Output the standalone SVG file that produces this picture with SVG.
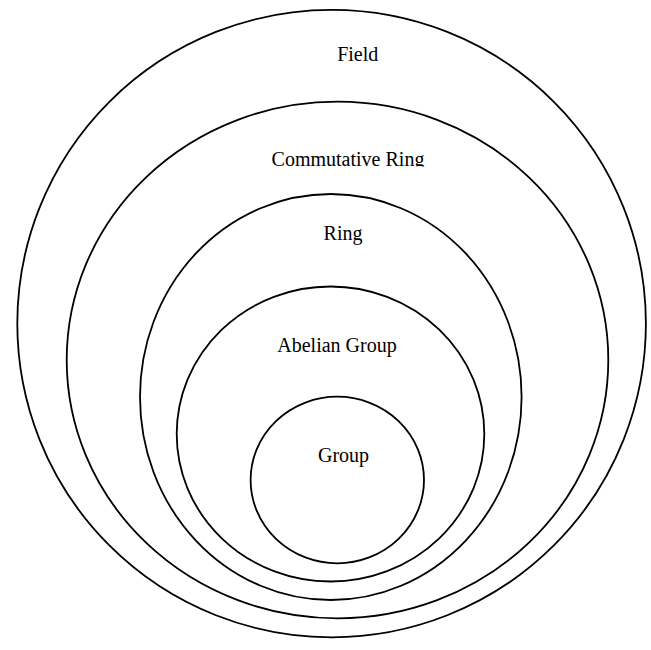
<svg xmlns="http://www.w3.org/2000/svg" width="651" height="650" viewBox="0 0 651 650">
<style>
.shape{fill:none;stroke:#000;stroke-width:1.8}
.lbl{font-family:"Liberation Serif","Times New Roman",serif;font-size:20px;fill:#000;text-anchor:middle}
</style>
<defs>
<clipPath id="cutComm"><rect x="0" y="0" width="651" height="166.5"/></clipPath>
</defs>
<rect width="651" height="650" fill="#fff"/>
<g id="field">
<ellipse class="shape" cx="331.6" cy="323.6" rx="314.3" ry="313.7"/>
<text class="lbl" x="357.7" y="61">Field</text>
</g>
<g id="commutative-ring">
<ellipse class="shape" cx="337.5" cy="360" rx="270.8" ry="258.3"/>
<text class="lbl" x="348" y="166" clip-path="url(#cutComm)">Commutative Ring</text>
</g>
<g id="ring">
<ellipse class="shape" cx="330.8" cy="397" rx="190.8" ry="203"/>
<text class="lbl" x="343" y="240">Ring</text>
</g>
<g id="abelian-group">
<ellipse class="shape" cx="330.5" cy="434" rx="153.8" ry="147.5"/>
<text class="lbl" x="337" y="352">Abelian Group</text>
</g>
<g id="group">
<ellipse class="shape" cx="337.3" cy="480" rx="86.7" ry="83.3"/>
<text class="lbl" x="343.5" y="462">Group</text>
</g>
<g id="connectors"/>
</svg>
